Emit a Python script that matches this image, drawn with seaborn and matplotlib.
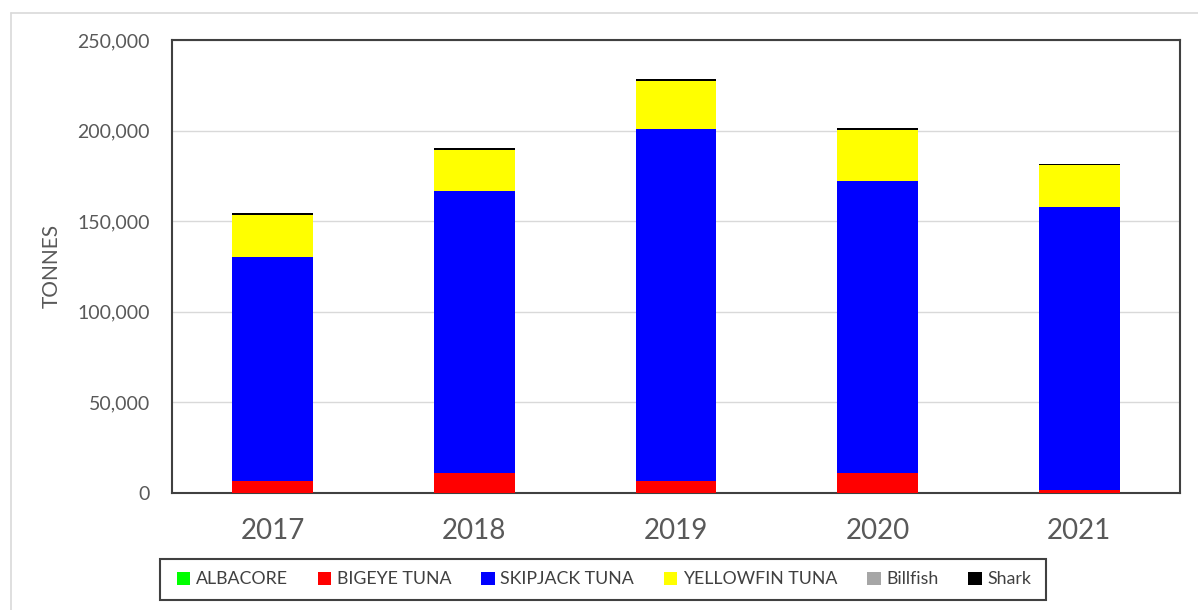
import matplotlib
matplotlib.use("Agg")
import matplotlib.pyplot as plt
import matplotlib.ticker as mticker
from matplotlib.lines import Line2D
from matplotlib.patches import Patch, Rectangle
import numpy as np
import seaborn as sns

# catch by year, tonnes
years = ["2017", "2018", "2019", "2020", "2021"]
species = ["ALBACORE", "BIGEYE TUNA", "SKIPJACK TUNA", "YELLOWFIN TUNA", "Billfish", "Shark"]
albacore = [0, 0, 0, 0, 0]
bigeye = [6700, 10900, 6700, 10900, 1500]
skipjack = [123300, 155500, 194300, 161400, 156300]
yellowfin = [23500, 23000, 26500, 28200, 23000]
billfish = [100, 100, 100, 100, 100]
shark = [800, 700, 700, 700, 700]
colors = ["#00ff00", "#ff0000", "#0000ff", "#ffff00", "#a6a6a6", "#000000"]

W, H = 1198, 610

sns.set_style("white")
plt.rcParams["font.family"] = ["Lato", "DejaVu Sans"]

fig = plt.figure(figsize=(W / 100, H / 100), dpi=100)
ax = fig.add_axes([172 / W, 1 - 493 / H, (1180 - 172) / W, (493 - 40) / H])

series = [albacore, bigeye, skipjack, yellowfin, billfish, shark]
bottom = np.zeros(len(years))
for vals, c in zip(series, colors):
    sns.barplot(x=years, y=vals, bottom=bottom, color=c, saturation=1,
                width=0.4, errorbar=None, linewidth=0, ax=ax, zorder=3)
    bottom = bottom + np.array(vals)

ax.set_ylim(0, 250000)
ax.set_yticks(range(0, 250001, 50000))
ax.yaxis.set_major_formatter(mticker.FuncFormatter(lambda v, p: f"{int(v):,}"))
ax.grid(axis="y", color="#d9d9d9", linewidth=1, zorder=0)
ax.set_axisbelow(True)
ax.set_xlabel("")
ax.set_ylabel("")

for s in ax.spines.values():
    s.set_color("#404040")
    s.set_linewidth(1.5)
    s.set_visible(True)

ax.tick_params(axis="y", length=0, pad=16, labelsize=14, labelcolor="#595959")
ax.tick_params(axis="x", length=0, pad=18, labelsize=20, labelcolor="#595959")

fig.text(52 / W, 1 - 266 / H, "TONNES", rotation=90, ha="center", va="center",
         fontsize=15, color="#595959")

handles = [Patch(facecolor=c, edgecolor="none") for c in colors]
leg = fig.legend(handles, species, loc="center", ncol=6,
                 bbox_to_anchor=(604 / W, 1 - 579.5 / H),
                 fontsize=12.8, frameon=False,
                 handlelength=0.75, handleheight=0.75,
                 handletextpad=0.3, columnspacing=1.7,
                 labelcolor="#404040")

# legend box drawn on its own so it can be wider than the entries
fig.add_artist(Rectangle((160 / W, 1 - 600 / H), (1046 - 160) / W, 41 / H,
                         transform=fig.transFigure, fill=False,
                         edgecolor="#404040", linewidth=1.5))

# light outer chart-area frame
fig.add_artist(Line2D([11 / W, 11 / W], [0, 1 - 13 / H], color="#d9d9d9", lw=1.2))
fig.add_artist(Line2D([11 / W, 1], [1 - 13 / H, 1 - 13 / H], color="#d9d9d9", lw=1.2))

fig.savefig("out.png", dpi=100)
